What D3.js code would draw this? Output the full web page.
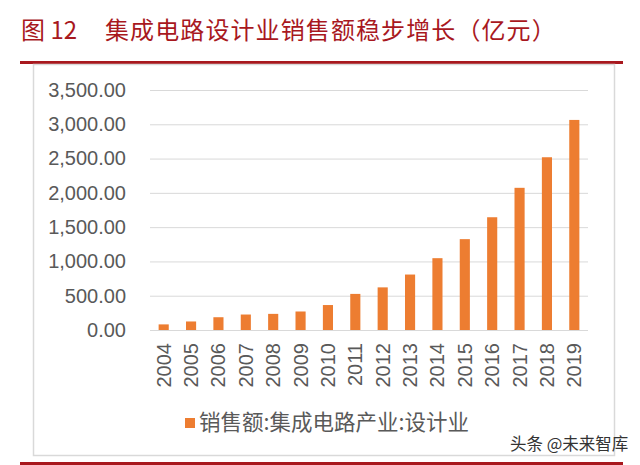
<!DOCTYPE html>
<html><head><meta charset="utf-8">
<script src="https://cdn.jsdelivr.net/npm/d3@7"></script>
<style>body{margin:0;background:#fff}svg{display:block}</style>
</head><body>
<svg id="c" width="640" height="465"></svg>
<script>
const years = ["2004","2005","2006","2007","2008","2009","2010","2011","2012","2013","2014","2015","2016","2017","2018","2019"];
const sales = [81.8,124.3,186.2,225.7,235.2,269.9,363.9,526.4,621.7,808.8,1047.4,1325.0,1644.3,2073.5,2519.3,3063.5];
const yTicks = [0,500,1000,1500,2000,2500,3000,3500];
const figLabel = "图 12";
const titleText = "集成电路设计业销售额稳步增长（亿元）";
const seriesName = "销售额:集成电路产业:设计业";
const watermark = "头条 @未来智库";

const svg = d3.select("#c");
const red = "#a8181e";
const font = "'Liberation Sans', Arial, sans-serif";
const cjk = "'Noto Sans CJK SC', sans-serif";

// title
svg.append("text").attr("x",21).attr("y",39).attr("fill",red)
  .attr("font-family",cjk).attr("font-size",24).text(figLabel);
svg.append("text").attr("x",105).attr("y",39).attr("fill",red)
  .attr("font-family",cjk).attr("font-size",24).attr("letter-spacing",1.1).text(titleText);
// red rules
svg.append("rect").attr("x",20).attr("y",61).attr("width",603).attr("height",3).attr("fill",red);
svg.append("rect").attr("x",20).attr("y",462).attr("width",603).attr("height",3).attr("fill",red);
// chart box
svg.append("rect").attr("x",33.5).attr("y",64.5).attr("width",581).attr("height",391)
  .attr("fill","none").attr("stroke","#d9d9d9").attr("stroke-width",1.5);

const x = d3.scaleBand().domain(years).range([150,588]).paddingInner(0.63).paddingOuter(0.315);
const y = d3.scaleLinear().domain([0,3500]).range([330,90]);

// grid
svg.append("g").selectAll("line").data(yTicks).join("line")
  .attr("x1",150).attr("x2",588).attr("y1",d=>y(d)+0.5).attr("y2",d=>y(d)+0.5)
  .attr("stroke","#d9d9d9").attr("stroke-width",1);

// y axis
const ya = svg.append("g").attr("transform","translate(138,0)")
  .call(d3.axisLeft(y).tickValues(yTicks).tickSize(0).tickPadding(12).tickFormat(d3.format(",.2f")));
ya.select(".domain").remove();
ya.selectAll("text").attr("font-family",font).attr("font-size",20).attr("fill","#595959");

// bars
svg.append("g").selectAll("rect").data(sales).join("rect")
  .attr("x",(d,i)=>x(years[i])).attr("width",x.bandwidth())
  .attr("y",d=>y(d)).attr("height",d=>y(0)-y(d)).attr("fill","#ed7d31");

// x axis
const xa = svg.append("g").attr("transform","translate(0,330)")
  .call(d3.axisBottom(x).tickSize(0).tickPadding(0));
xa.select(".domain").remove();
xa.selectAll("text").attr("font-family",font).attr("font-size",20).attr("fill","#595959")
  .attr("transform","rotate(-90)").attr("text-anchor","end")
  .attr("x",-13).attr("y",0).attr("dy","0.35em");

// legend
const lg = svg.append("g");
lg.append("rect").attr("x",185).attr("y",418).attr("width",10).attr("height",10).attr("fill","#ed7d31");
lg.append("text").attr("x",199).attr("y",430).attr("font-family",cjk).attr("font-size",21.5)
  .attr("fill","#595959").text(seriesName);

// watermark
svg.append("text").attr("x",510).attr("y",450).attr("font-family",cjk).attr("font-size",16.5)
  .attr("fill","#333").text(watermark);
</script>
</body></html>
